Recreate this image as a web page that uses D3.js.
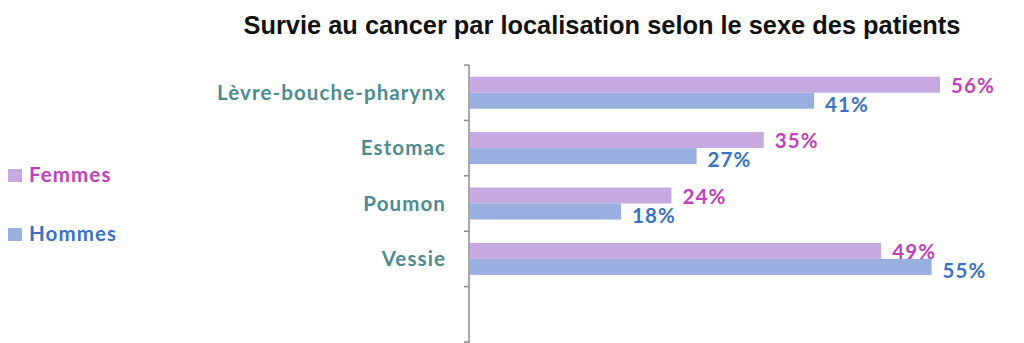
<!DOCTYPE html>
<meta charset="utf-8">
<script src="https://d3js.org/d3.v7.min.js"></script>
<style>
  body { margin: 0; background: #fff; }
</style>
<div id="my_dataviz"></div>
<script>

    // data
    var categories = ["Lèvre-bouche-pharynx", "Estomac", "Poumon", "Vessie"];
    var series = ["Femmes", "Hommes"];
    var femmes = [56, 35, 24, 49];
    var hommes = [41, 27, 18, 55];

    var width = 1024, height = 343;

    var svg = d3.select("#my_dataviz")
        .append("svg")
        .attr("width", width)
        .attr("height", height);

    var barColor = {Femmes: "#c6a9e0", Hommes: "#99afdf"};
    var textColor = {Femmes: "#c042b9", Hommes: "#3b72c2"};

    // Title
    svg.append("text")
        .attr("x", 602)
        .attr("y", 34)
        .attr("text-anchor", "middle")
        .style("font-family", "Liberation Sans, Arial, sans-serif")
        .style("font-weight", "bold")
        .style("font-size", "25.4px")
        .style("fill", "#111")
        .text("Survie au cancer par localisation selon le sexe des patients");

    // X scale (no visible axis)
    var x = d3.scaleLinear()
        .domain([0, 56])
        .range([470, 940]);

    // Y scale: one empty slot at the bottom like the original
    var y = d3.scaleBand()
        .domain(categories.concat([" "]))
        .range([65, 342]);

    var sub = d3.scaleBand()
        .domain(series)
        .range([-16, 16]);

    // axis line + ticks
    var yAxis = svg.append("g")
        .attr("transform", "translate(" + x(0) + ",0)");
    yAxis.append("line")
        .attr("x1", -1).attr("x2", -1)
        .attr("y1", y.range()[0]).attr("y2", height)
        .attr("stroke", "#8c8c95").attr("stroke-width", 1.5);
    yAxis.selectAll(".tk")
        .data(y.domain().map(function(d) { return y(d); }).concat([y.range()[1]]))
        .enter()
        .append("line")
        .attr("x1", -6).attr("x2", -1)
        .attr("y1", function(d) { return d; })
        .attr("y2", function(d) { return d; })
        .attr("stroke", "#8c8c95").attr("stroke-width", 1.5);

    // rows
    var rows = categories.map(function(c, i) {
        return {cat: c, values: [{s: "Femmes", v: femmes[i]}, {s: "Hommes", v: hommes[i]}]};
    });

    var g = svg.append("g")
        .selectAll("g")
        .data(rows)
        .enter()
        .append("g")
        .attr("transform", function(d) { return "translate(0," + (y(d.cat) + y.bandwidth() / 2) + ")"; });

    // category labels
    g.append("text")
        .attr("x", 446)
        .attr("y", 0)
        .attr("dy", "0.35em")
        .attr("text-anchor", "end")
        .style("font-family", "Lato, sans-serif")
        .style("font-weight", "bold")
        .style("font-size", "20.5px")
        .style("letter-spacing", "1.1px")
        .style("fill", "#4b8b91")
        .text(function(d) { return d.cat; });

    // bars
    g.selectAll("rect")
        .data(function(d) { return d.values; })
        .enter()
        .append("rect")
        .attr("x", x(0))
        .attr("y", function(d) { return sub(d.s); })
        .attr("width", function(d) { return x(d.v) - x(0); })
        .attr("height", sub.bandwidth())
        .style("fill", function(d) { return barColor[d.s]; });

    // value labels
    g.selectAll(".val")
        .data(function(d) { return d.values; })
        .enter()
        .append("text")
        .attr("class", "val")
        .attr("x", function(d) { return x(d.v) + 11; })
        .attr("y", function(d) { return sub(d.s) + sub.bandwidth() / 2 + (d.s === "Hommes" ? 4 : 1); })
        .attr("dy", "0.35em")
        .style("font-family", "Lato, sans-serif")
        .style("font-weight", "bold")
        .style("font-size", "20.5px")
        .style("letter-spacing", "1.1px")
        .style("fill", function(d) { return textColor[d.s]; })
        .text(function(d) { return d.v + "%"; });

    // legend
    var legend = svg.append("g")
        .selectAll("g")
        .data(series)
        .enter()
        .append("g")
        .attr("transform", function(d, i) { return "translate(8," + (175 + i * 59) + ")"; });

    legend.append("rect")
        .attr("x", 0).attr("y", -6)
        .attr("width", 14).attr("height", 13)
        .style("fill", function(d) { return barColor[d]; });

    legend.append("text")
        .attr("x", 21)
        .attr("y", 0)
        .attr("dy", "0.35em")
        .style("font-family", "Lato, sans-serif")
        .style("font-weight", "bold")
        .style("font-size", "20.5px")
        .style("letter-spacing", "1.1px")
        .style("fill", function(d) { return textColor[d]; })
        .text(function(d) { return d; });

</script>
